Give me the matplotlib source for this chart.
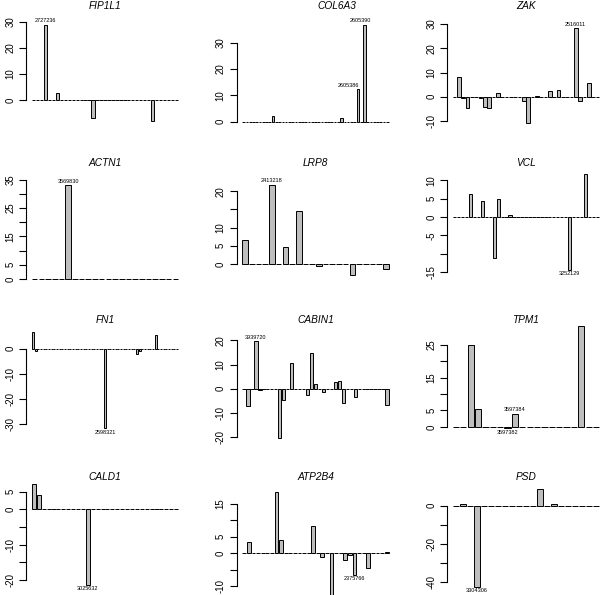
import matplotlib
matplotlib.use("Agg")
import matplotlib.pyplot as plt
import numpy as np

plt.rcParams['font.family'] = ['Liberation Sans', 'DejaVu Sans']

# =============================================================================
# Daten: pro Gen Anzahl Balken, Index und Wert der Balken ungleich 0

genes = ['FIP1L1', 'COL6A3', 'ZAK', 'ACTN1', 'LRP8', 'VCL',
         'FN1', 'CABIN1', 'TPM1', 'CALD1', 'ATP2B4', 'PSD']
n_bars = [37, 45, 34, 22, 22, 37, 55, 37, 20, 30, 32, 21]

bar_idx = [
    [3, 6, 15, 30],
    [9, 30, 35, 37],
    [1, 2, 3, 6, 7, 8, 10, 16, 17, 19, 22, 24, 28, 29, 31],
    [5],
    [0, 4, 6, 8, 11, 16, 21],
    [4, 7, 10, 11, 14, 29, 33],
    [0, 1, 27, 39, 40, 46],
    [1, 3, 4, 9, 10, 12, 16, 17, 18, 20, 23, 24, 25, 28, 36],
    [2, 3, 7, 8, 17],
    [0, 1, 11],
    [1, 7, 8, 15, 17, 19, 22, 23, 24, 27, 31],
    [1, 3, 12, 14],
]
bar_val = [
    [28.8, 2.5, -7.0, -8.0],
    [2.3, 1.3, 12.3, 36.7],
    [8.3, -0.5, -4.5, -0.7, -4.1, -4.8, 1.4, -1.8, -11.0, 0.5, 2.3, 2.8, 28.2, -1.6, 5.5],
    [33.0],
    [6.7, 21.7, 4.6, 14.7, -0.6, -2.9, -1.5],
    [6.4, 4.4, -11.2, 5.0, 0.6, -14.4, 11.7],
    [6.7, -0.9, -31.8, -1.9, -1.0, 5.5],
    [-7.2, 19.7, -0.3, -20.3, -4.7, 10.8, -2.6, 14.9, 1.8, -1.2, 2.8, 3.2, -5.8, -3.4, -6.5],
    [25.0, 5.5, -0.3, 3.95, 30.6],
    [7.2, 4.1, -21.4],
    [3.3, 18.7, 4.15, 8.4, -1.2, -12.6, -2.2, -0.7, -6.5, -4.5, 0.3],
    [1.0, -42.3, 8.6, 1.0],
]

# Beschriftungen (Balkenindex, Text)
bar_labels = [
    [(3, '2727236')],
    [(35, '2605386'), (37, '2605390')],
    [(28, '2516011')],
    [(5, '3569830')],
    [(4, '2413218')],
    [(29, '3252129')],
    [(27, '2598321')],
    [(3, '3939720')],
    [(8, '3597384'), (7, '3597382')],
    [(11, '3025632')],
    [(24, '2375766')],
    [(3, '3304306')],
]

yticks = [
    [0, 10, 20, 30],
    [0, 10, 20, 30],
    [-10, 0, 10, 20, 30],
    [0, 5, 10, 15, 20, 25, 30, 35],
    [0, 5, 10, 15, 20],
    [-15, -10, -5, 0, 5, 10],
    [-30, -20, -10, 0],
    [-20, -10, 0, 10, 20],
    [0, 5, 10, 15, 20, 25],
    [-20, -15, -10, -5, 0, 5],
    [-10, -5, 0, 5, 10, 15],
    [-40, -30, -20, -10, 0],
]
# welche Ticks beschriftet werden (R laesst ueberlappende weg)
ytick_shown = [
    [0, 10, 20, 30],
    [0, 10, 20, 30],
    [-10, 0, 10, 20, 30],
    [0, 5, 15, 25, 35],
    [0, 5, 10, 20],
    [-15, -5, 0, 5, 10],
    [-30, -20, -10, 0],
    [-20, -10, 0, 10, 20],
    [0, 5, 15, 25],
    [-20, -10, 0, 5],
    [-10, 0, 5, 15],
    [-40, -20, 0],
]

# =============================================================================
# Layout (Pixel)

W, H = 600, 595
ylims = [(-10.4, 34.2), (-2.0, 42.0), (-12.5, 35.4),
         (-1.8, 39.1), (-5.5, 26.4), (-18.3, 13.4),
         (-36.9, 9.5), (-21.6, 26.4), (-4.3, 31.0),
         (-25.2, 7.8), (-13.6, 21.6), (-48.2, 12.4)]
label_dx = {1: [-3.0, -1.4]}   # COL6A3: Labels sitzen links vom Balken
title_xfrac = {1: 0.633}

fig = plt.figure(figsize=(W / 100, H / 100), dpi=100)

for k, gene in enumerate(genes):
    r, c = divmod(k, 3)
    left = 26 + 210.5 * c
    top = 11 + 157 * r
    bottom = 127 + 157 * r
    ax = fig.add_axes([left / W, 1 - bottom / H, 158 / W, (bottom - top) / H])

    n = n_bars[k]
    vals = np.zeros(n)
    vals[bar_idx[k]] = bar_val[k]
    x = 0.7 + 1.2 * np.arange(n)
    ax.bar(x, vals, width=1.0, color='#bebebe', edgecolor='black',
           linewidth=0.7, clip_on=False)

    span = 1.2 * n - 0.2
    ax.set_xlim(0.2 - 0.04 * span, 1.2 * n + 0.04 * span)
    ax.set_ylim(*ylims[k])

    dxs = label_dx.get(k, [0] * len(bar_labels[k]))
    for (i, txt), dx in zip(bar_labels[k], dxs):
        v = vals[i]
        off = 1.2 if v > 0 else -1.2
        ax.annotate(txt, (x[i] + dx * 1.2, v), xytext=(0, off),
                    textcoords='offset points', ha='center',
                    va='bottom' if v > 0 else 'top', fontsize=4.0,
                    annotation_clip=False)

    ax.set_xticks([])
    ax.set_yticks(yticks[k])
    ax.set_yticklabels([str(t) if t in ytick_shown[k] else '' for t in yticks[k]],
                       rotation=90, va='center')
    ax.tick_params(axis='y', length=4.7, width=0.8, labelsize=6.9, pad=3.0)
    for s in ['top', 'right', 'bottom']:
        ax.spines[s].set_visible(False)
    ax.spines['left'].set_bounds(yticks[k][0], yticks[k][-1])
    ax.spines['left'].set_linewidth(0.8)
    ax.patch.set_visible(False)

    tx = (left + 158 * title_xfrac.get(k, 0.5)) / W
    ty = 1 - (6.3 + 157 * r) / H
    fig.text(tx, ty, gene, ha='center', va='center', fontsize=7.3, style='italic')

plt.savefig('out.png', dpi=100)
